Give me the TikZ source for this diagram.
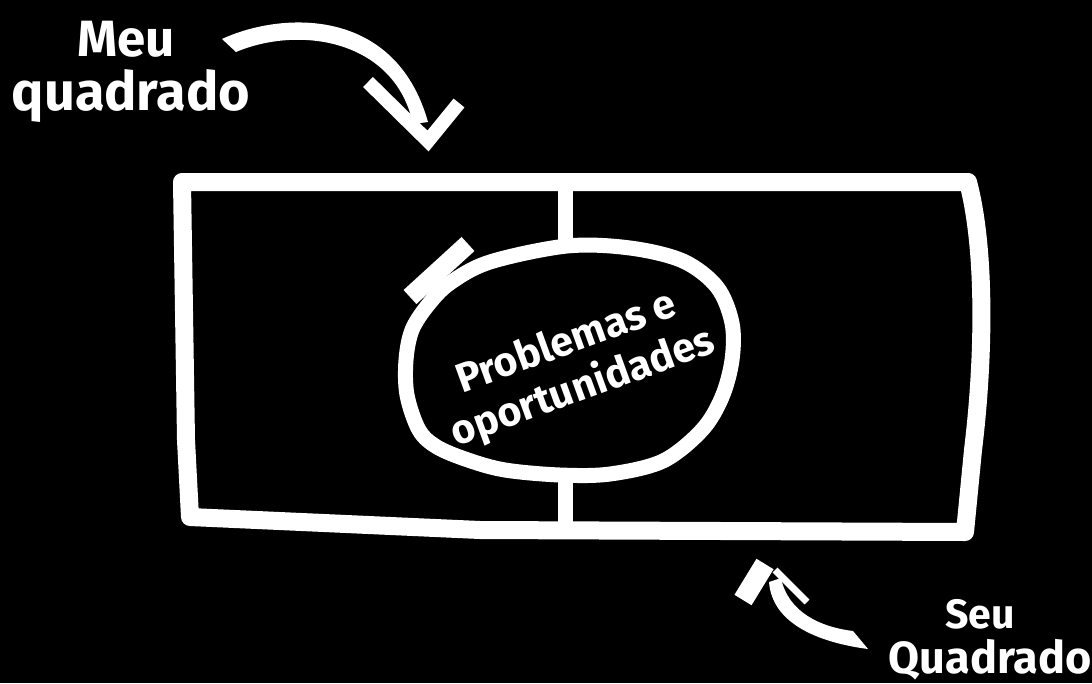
\documentclass[tikz,border=0pt]{standalone}
\usepackage{fontspec}
\setmainfont{Fira Sans}
\begin{document}
\begin{tikzpicture}[x=1pt,y=-1pt,
  chalk/.style={draw=white, line width=#1, line join=round},
  lbl/.style={text=white, inner sep=0pt, font=\bfseries}]
\fill[black] (0,0) rectangle (1092,683);
\useasboundingbox (0,0) rectangle (1092,683);
% field frame
\draw[chalk=18] (182,182) -- (968,182) .. controls (986,250) and (984,360) .. (973,450)
  -- (965,532) -- (480,530) -- (190,517) -- (186,440) -- cycle;
% middle line
\draw[chalk=15] (565,190) -- (565,250);
\draw[chalk=15] (565,476) -- (565,525);
% centre ellipse
\draw[chalk=15] plot[smooth cycle, tension=0.55] coordinates
  {(567,246) (630,248) (683,261) (717,287) (732,323) (732,360) (722,397) (702,430)
   (663,461) (610,474) (560,475) (505,470) (468,460) (437,447) (419,430) (407,395)
   (406,360) (412,330) (428,305) (450,283) (490,262)};
\draw[chalk=19, line cap=butt] (410,297) -- (468,244);
% top arrow
\fill[white] (222,39) .. controls (280,12) and (395,5) .. (428,122)
  -- (413,124) .. controls (395,40) and (300,25) .. (236,52) -- cycle;
\draw[chalk=14, line join=miter] (368,82) -- (428,141) -- (459,103);
% bottom arrow
\fill[white] (868,649) .. controls (815,642) and (772,622) .. (769,582)
  -- (781,578) .. controls (788,612) and (820,627) .. (853,631) -- cycle;
\draw[chalk=20, line cap=butt] (743,600) -- (765,564);
\draw[chalk=7] (775,570) -- (807,602);
% labels
\node[lbl, font=\bfseries\fontsize{51}{55}\selectfont, anchor=base] (meu) at (126,56) {Meu};
\node[lbl, font=\bfseries\fontsize{54}{60}\selectfont, anchor=base] (quadrado) at (131,110) {quadrado};
\node[lbl, font=\bfseries\fontsize{41}{44}\selectfont, anchor=base] (seu) at (980,628) {Seu};
\node[lbl, font=\bfseries\fontsize{45}{50}\selectfont, anchor=base] (Quadrado) at (990,673) {Quadrado};
\node[lbl, align=center, rotate=20, font=\bfseries\fontsize{41}{48}\selectfont] (po) at (575,366) {Problemas e\\oportunidades};
\end{tikzpicture}
\end{document}
